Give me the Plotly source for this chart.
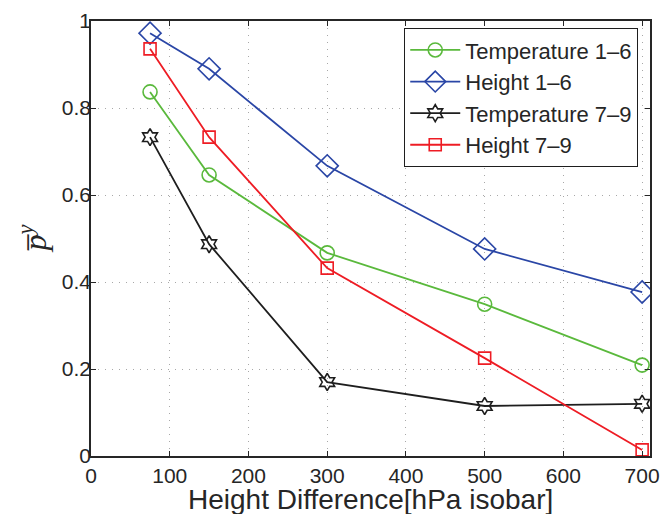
import plotly.graph_objects as go

x_vals = [75, 150, 300, 500, 700]
temp_1_6 = [0.837, 0.646, 0.467, 0.349, 0.209]
height_1_6 = [0.972, 0.890, 0.667, 0.476, 0.377]
temp_7_9 = [0.733, 0.487, 0.170, 0.115, 0.120]
height_7_9 = [0.936, 0.733, 0.432, 0.225, 0.014]

x_ticks = [0, 100, 200, 300, 400, 500, 600, 700]
y_ticks = [0, 0.2, 0.4, 0.6, 0.8, 1]
y_tick_text = ["0", "0.2", "0.4", "0.6", "0.8", "1"]

series = [
    ("Temperature 1\u20136", temp_1_6, "#5ab93c", "circle-open", 14),
    ("Height 1\u20136", height_1_6, "#2a46a6", "diamond-open", 17),
    ("Temperature 7\u20139", temp_7_9, "#1e1e1e", "hexagram-open", 13),
    ("Height 7\u20139", height_7_9, "#ee1c24", "square-open", 12),
]

fig = go.Figure()
for name, ys, col, sym, sz in series:
    fig.add_trace(go.Scatter(
        x=x_vals, y=ys, name=name, mode="lines+markers",
        line=dict(color=col, width=1.8),
        marker=dict(symbol=sym, size=sz, color=col, line=dict(width=1.6, color=col)),
    ))

axis_common = dict(
    showline=True, linecolor="#262626", linewidth=1.5, mirror="ticks",
    ticks="inside", ticklen=5, tickcolor="#262626",
    showgrid=True, gridcolor="#a8a8a8", griddash="1px,6px", gridwidth=1,
    zeroline=False, automargin=False,
    tickfont=dict(family="Liberation Sans, Arial", size=21, color="#262626"),
)

fig.update_layout(
    width=664, height=515,
    margin=dict(l=91, r=14, t=21, b=59),
    paper_bgcolor="white", plot_bgcolor="white",
    xaxis=dict(range=[0, 710], tickvals=x_ticks, **axis_common),
    yaxis=dict(range=[0, 1], tickvals=y_ticks, ticktext=y_tick_text,
               ticklabelstandoff=-6, **axis_common),
    legend=dict(x=0.56, y=0.984, xanchor="left", yanchor="top",
                bordercolor="#1e1e1e", borderwidth=1.2, bgcolor="white",
                font=dict(family="Liberation Sans, Arial", size=22, color="#262626"),
                tracegroupgap=0, itemwidth=50),
    showlegend=True,
    annotations=[
        dict(text="Height Difference[hPa isobar]", xref="paper", yref="paper",
             x=0.5, y=0, xanchor="center", yanchor="middle", yshift=-43,
             height=30, valign="middle",
             showarrow=False,
             font=dict(family="Liberation Sans, Arial", size=28, color="#262626")),
        dict(text="<i>p\u0305</i><sup><i>y</i></sup>", xref="paper", yref="paper",
             x=0, y=0.5, xanchor="center", yanchor="middle", xshift=-59,
             textangle=-90, showarrow=False,
             font=dict(family="Liberation Serif, Times New Roman", size=32, color="#262626")),
    ],
)

fig.write_html("out.html", config={"displayModeBar": False},
               post_script="document.body.style.margin='0';document.body.style.overflow='hidden';")
